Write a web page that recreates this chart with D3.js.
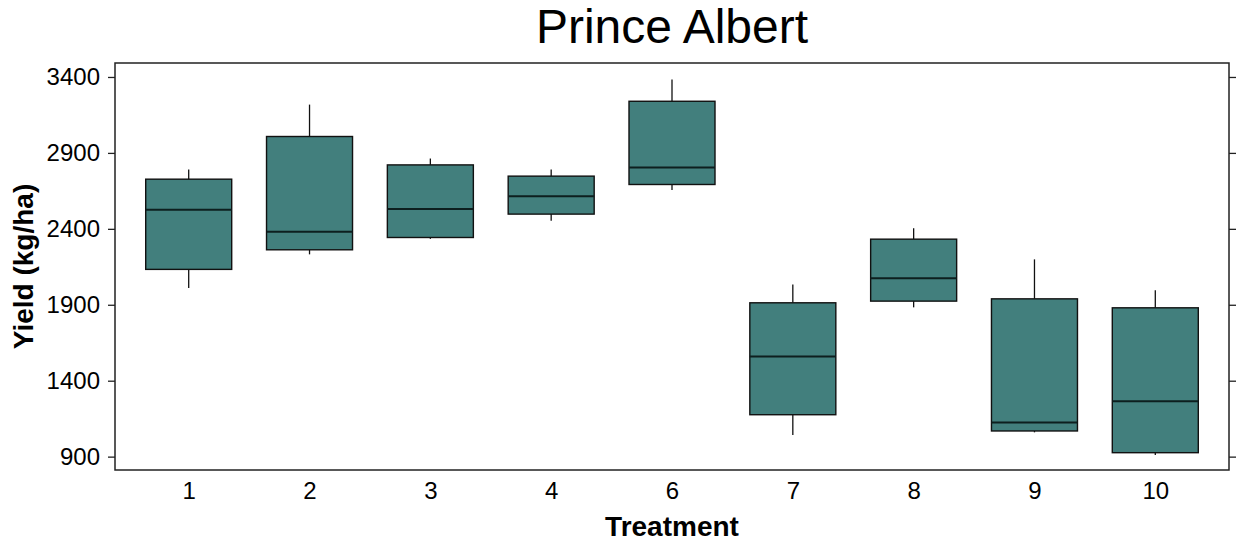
<!DOCTYPE html>
<html>
<head>
<meta charset="utf-8">
<script src="https://cdn.jsdelivr.net/npm/d3@7"></script>
<style>
  body { margin: 0; background: #fff; }
  svg { display: block; font-family: "Liberation Sans", Arial, sans-serif; }
</style>
</head>
<body>
<svg id="chart" width="1238" height="546"></svg>
<script>
const treatments = ['1', '2', '3', '4', '6', '7', '8', '9', '10'];
const whiskerLow  = [2010, 2232, 2334, 2453, 2655, 1043, 1883, 1060, 911];
const q1          = [2133, 2262, 2343, 2497, 2692, 1176, 1924, 1069, 926];
const medians     = [2525, 2380, 2530, 2615, 2804, 1560, 2075, 1124, 1264];
const q3          = [2727, 3008, 2821, 2747, 3240, 1913, 2332, 1939, 1880];
const whiskerHigh = [2791, 3218, 2863, 2791, 3383, 2034, 2404, 2199, 1995];
const yTicks = [900, 1400, 1900, 2400, 2900, 3400];

const svg = d3.select('#chart');
const plotLeft = 115, plotRight = 1229, plotTop = 63, plotBottom = 470;
const fill = '#427f7d';

const x = d3.scalePoint().domain(treatments).range([plotLeft, plotRight]).padding(0.61);
const y = d3.scaleLinear().domain([812, 3492]).range([plotBottom, plotTop]);
const boxW = 86;

const rows = treatments.map((t, i) => ({
    t, lo: whiskerLow[i], q1: q1[i], med: medians[i], q3: q3[i], hi: whiskerHigh[i]
}));

// frame
svg.append('rect')
    .attr('x', plotLeft).attr('y', plotTop)
    .attr('width', plotRight - plotLeft).attr('height', plotBottom - plotTop)
    .attr('fill', 'none').attr('stroke', '#222').attr('stroke-width', 1.5);

// left axis
const yAxisL = svg.append('g')
    .attr('transform', `translate(${plotLeft},0)`)
    .call(d3.axisLeft(y).tickValues(yTicks).tickSize(7).tickPadding(8).tickFormat(d3.format('d')));
yAxisL.select('.domain').remove();
yAxisL.selectAll('line').attr('stroke', '#222').attr('stroke-width', 1.3);
yAxisL.selectAll('text').attr('font-size', 24).attr('fill', '#000')
    .attr('font-family', '"Liberation Sans", Arial, sans-serif');

// right axis (ticks only)
const yAxisR = svg.append('g')
    .attr('transform', `translate(${plotRight},0)`)
    .call(d3.axisRight(y).tickValues(yTicks).tickSize(7).tickFormat(''));
yAxisR.select('.domain').remove();
yAxisR.selectAll('line').attr('stroke', '#222').attr('stroke-width', 1.3);

// bottom axis (labels only)
const xAxis = svg.append('g')
    .attr('transform', `translate(0,${plotBottom})`)
    .call(d3.axisBottom(x).tickSize(0).tickPadding(12));
xAxis.select('.domain').remove();
xAxis.selectAll('text').attr('font-size', 24).attr('fill', '#000')
    .attr('font-family', '"Liberation Sans", Arial, sans-serif');

// boxes
const g = svg.append('g');
const box = g.selectAll('g.box').data(rows).join('g').attr('class', 'box');

box.append('line')
    .attr('x1', d => x(d.t)).attr('x2', d => x(d.t))
    .attr('y1', d => y(d.hi)).attr('y2', d => y(d.q3))
    .attr('stroke', '#111').attr('stroke-width', 1.3);
box.append('line')
    .attr('x1', d => x(d.t)).attr('x2', d => x(d.t))
    .attr('y1', d => y(d.q1)).attr('y2', d => y(d.lo))
    .attr('stroke', '#111').attr('stroke-width', 1.3);
box.append('rect')
    .attr('x', d => x(d.t) - boxW / 2)
    .attr('y', d => y(d.q3))
    .attr('width', boxW)
    .attr('height', d => y(d.q1) - y(d.q3))
    .attr('fill', fill).attr('stroke', '#111').attr('stroke-width', 1.4);
box.append('line')
    .attr('x1', d => x(d.t) - boxW / 2).attr('x2', d => x(d.t) + boxW / 2)
    .attr('y1', d => y(d.med)).attr('y2', d => y(d.med))
    .attr('stroke', '#0d1f1f').attr('stroke-width', 2);

// titles
svg.append('text')
    .attr('x', (plotLeft + plotRight) / 2).attr('y', 43)
    .attr('text-anchor', 'middle').attr('font-size', 48)
    .text('Prince Albert');

svg.append('text')
    .attr('x', (plotLeft + plotRight) / 2).attr('y', 536)
    .attr('text-anchor', 'middle').attr('font-size', 28).attr('font-weight', 'bold')
    .text('Treatment');

svg.append('text')
    .attr('transform', `translate(33,${(plotTop + plotBottom) / 2}) rotate(-90)`)
    .attr('text-anchor', 'middle').attr('font-size', 28).attr('font-weight', 'bold')
    .text('Yield (kg/ha)');
</script>
</body>
</html>
